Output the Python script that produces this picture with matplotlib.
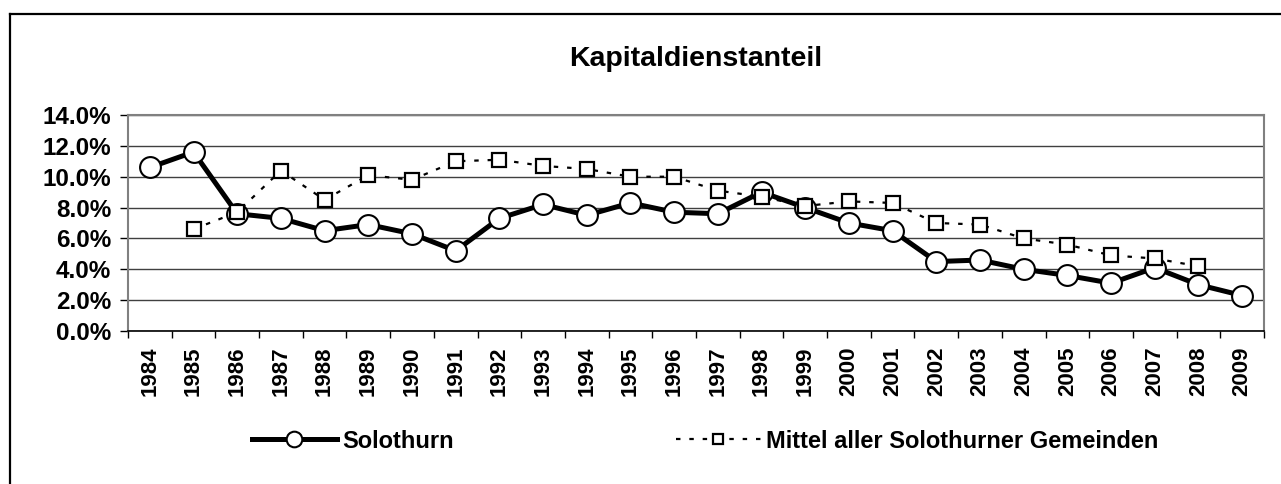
import matplotlib
matplotlib.use("Agg")
import matplotlib.pyplot as plt
from matplotlib.lines import Line2D
from matplotlib.ticker import FuncFormatter, MultipleLocator
import numpy as np

plt.rcParams['font.family'] = ['Liberation Sans', 'DejaVu Sans']
plt.rcParams['font.weight'] = 'bold'

# data (share in %)
years = [str(y) for y in range(1984, 2010)]
solothurn = [10.6, 11.6, 7.6, 7.3, 6.5, 6.9, 6.3, 5.2, 7.3, 8.2, 7.5, 8.3, 7.7,
             7.6, 9.0, 8.0, 7.0, 6.5, 4.5, 4.6, 4.0, 3.6, 3.1, 4.1, 3.0, 2.3]
mittel = [np.nan, 6.6, 7.7, 10.4, 8.5, 10.1, 9.8, 11.0, 11.1, 10.7, 10.5, 10.0, 10.0,
          9.1, 8.7, 8.1, 8.4, 8.3, 7.0, 6.9, 6.0, 5.6, 4.9, 4.7, 4.2, np.nan]
labels = ["Solothurn", "Mittel aller Solothurner Gemeinden"]
title = "Kapitaldienstanteil"

fig = plt.figure(figsize=(12.81, 4.84), dpi=100)
ax = fig.add_axes([128 / 1281, 1 - 331 / 484, (1264 - 128) / 1281, (331 - 115) / 484])

x = np.arange(len(years))
ax.plot(x, np.array(solothurn) / 100, color='black', lw=3.6, marker='o', ms=15,
        mfc='white', mec='black', mew=1.5, zorder=3, label=labels[0])
ax.plot(x, np.array(mittel) / 100, color='black', lw=1.6, dashes=(2, 4), marker='s', ms=9.5,
        mfc='white', mec='black', mew=1.6, zorder=4, label=labels[1])

ax.set_xlim(-0.5, len(years) - 0.5)
ax.set_ylim(0, 0.14)
ax.yaxis.set_major_locator(MultipleLocator(0.02))
ax.yaxis.set_major_formatter(FuncFormatter(lambda v, p: f"{v * 100:.1f}%"))
ax.grid(axis='y', color='#404040', lw=1)
ax.set_axisbelow(True)

ax.set_xticks(x)
ax.set_xticklabels(years, rotation=90)
ax.set_xticks(np.arange(-0.5, len(years)), minor=True)
ax.tick_params(axis='x', which='major', length=0, pad=11, labelsize=16)
ax.tick_params(axis='x', which='minor', length=5, width=1, direction='out')
ax.tick_params(axis='y', length=6, width=1, labelsize=17.5, pad=6)

for s in ['top', 'right', 'left']:
    ax.spines[s].set_color('#808080')
    ax.spines[s].set_linewidth(1.5)
ax.spines['bottom'].set_color('black')
ax.spines['bottom'].set_linewidth(1.2)

fig.text(0.5 * (128 + 1264) / 1281, 1 - 59 / 484, title, ha='center', va='center',
         fontsize=20.5, fontweight='bold')

fig.legend(loc='center', bbox_to_anchor=(705 / 1281, 1 - 441 / 484), ncol=2,
           frameon=False, fontsize=17, handlelength=3.6, handletextpad=0.22,
           columnspacing=9.4, markerscale=0.75)

# outer chart border (left and top visible)
fig.add_artist(Line2D([10 / 1281, 10 / 1281], [0, 1 - 14 / 484], transform=fig.transFigure,
                      color='black', lw=1.6))
fig.add_artist(Line2D([10 / 1281, 1], [1 - 14 / 484, 1 - 14 / 484], transform=fig.transFigure,
                      color='black', lw=1.6))

fig.savefig("out.png", dpi=100)
